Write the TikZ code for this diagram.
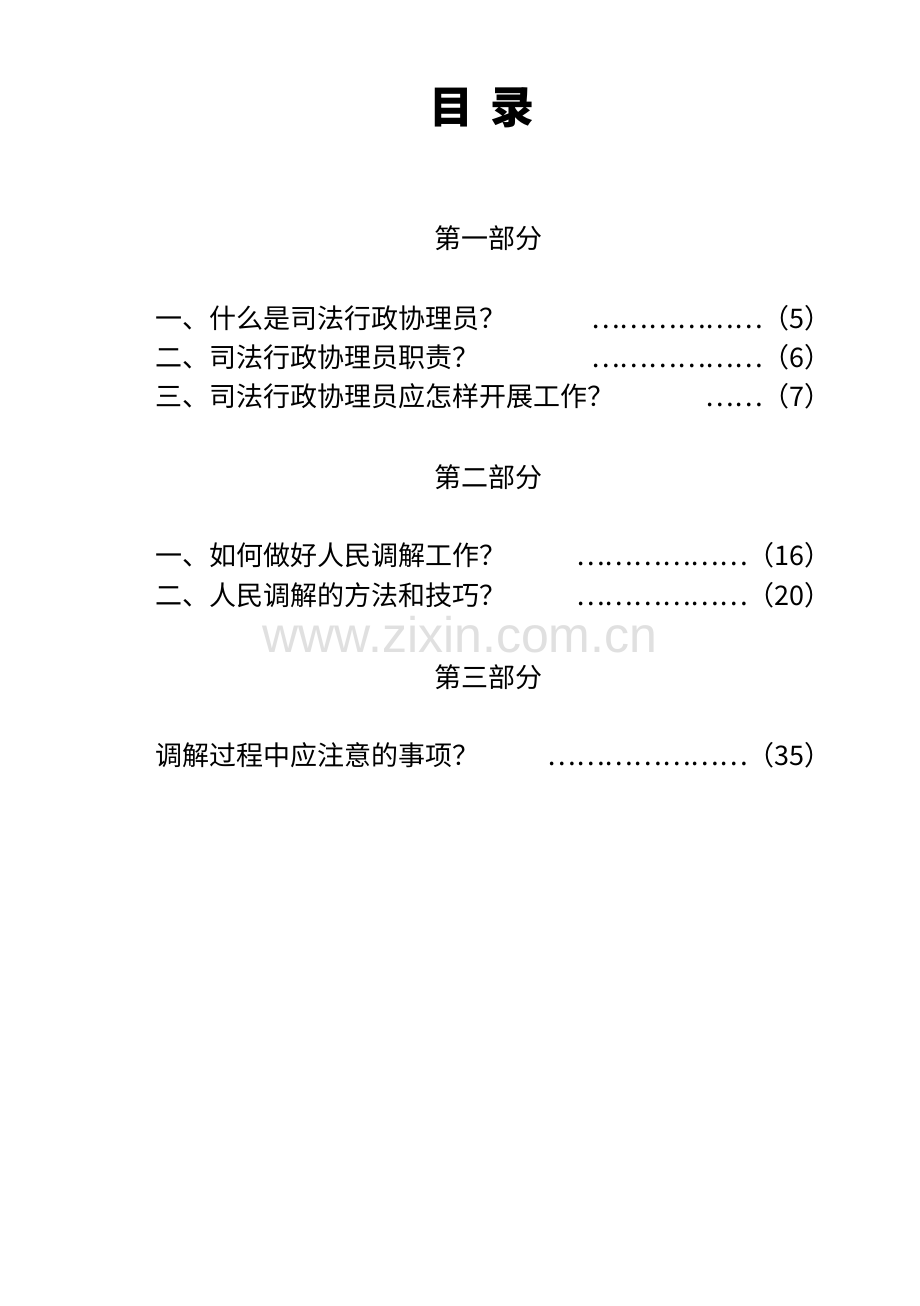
\documentclass[tikz,border=0pt]{standalone}
\usepackage{fontspec}
\newfontfamily\cjk{Noto Sans CJK SC}
\setmainfont{Liberation Sans}
\begin{document}
\begin{tikzpicture}[x=1pt,y=1pt,yscale=-1,xscale=1,
  entry/.style={anchor=west,inner sep=0pt,font=\cjk\fontsize{27}{27}\selectfont},
  page/.style={anchor=east,inner sep=0pt,font=\cjk\fontsize{27}{27}\selectfont},
  part/.style={inner sep=0pt,font=\cjk\fontsize{27}{27}\selectfont}]
\useasboundingbox (0,0) rectangle (920,1306);
\fill[white] (0,0) rectangle (920,1306);

% Title
\node[inner sep=0pt,font=\cjk\bfseries\fontsize{44}{44}\selectfont] (title) at (482,108) {目\hspace{0.4em}录};

% Part one
\node[part] (p1) at (488,238) {第一部分};
\node[entry] (e11) at (155,318) {一、什么是司法行政协理员？};
\node[page] (g11) at (832,318) {………………（5）};
\node[entry] (e12) at (155,357) {二、司法行政协理员职责？};
\node[page] (g12) at (832,357) {………………（6）};
\node[entry] (e13) at (155,396) {三、司法行政协理员应怎样开展工作？};
\node[page] (g13) at (832,396) {……（7）};

% Part two
\node[part] (p2) at (488,477) {第二部分};
\node[entry] (e21) at (155,555) {一、如何做好人民调解工作？};
\node[page] (g21) at (832,555) {………………（16）};
\node[entry] (e22) at (155,595) {二、人民调解的方法和技巧？};
\node[page] (g22) at (832,595) {………………（20）};

% Watermark
\node[inner sep=0pt,text=black!12,font=\fontsize{50}{50}\selectfont] (mark) at (460,635) {www.zixin.com.cn};

% Part three
\node[part] (p3) at (488,677) {第三部分};
\node[entry] (e31) at (155,755) {调解过程中应注意的事项？};
\node[page] (g31) at (832,755) {…………………（35）};
\end{tikzpicture}
\end{document}
